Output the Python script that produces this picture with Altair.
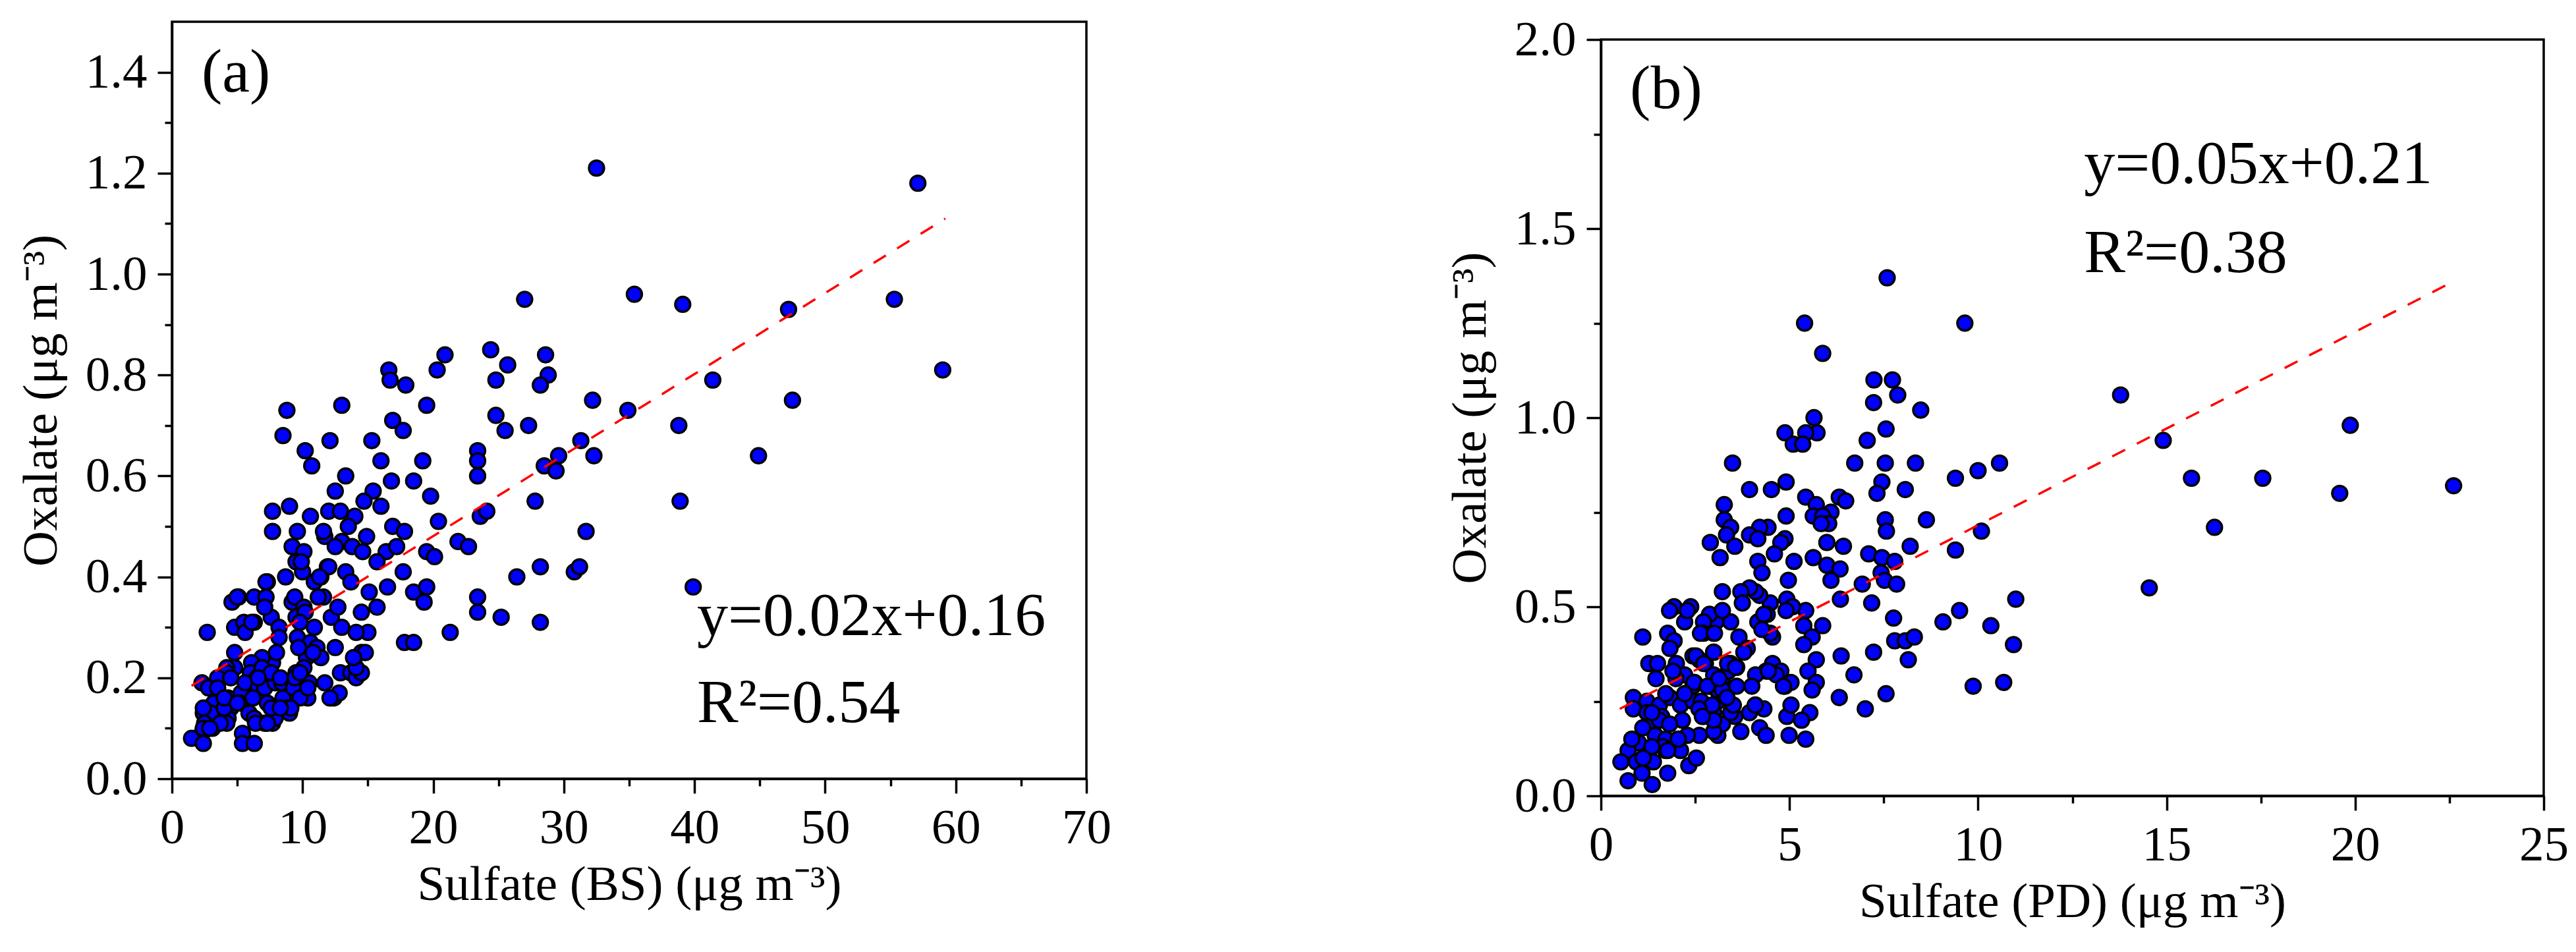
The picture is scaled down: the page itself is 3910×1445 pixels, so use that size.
import altair as alt
import pandas as pd

FONT = "Liberation Serif"

# ---------------- Panel (a): Sulfate (BS) vs Oxalate ----------------
a_x = [32.5, 35.4, 27.0, 24.4, 20.9, 20.3, 16.6, 16.7, 17.9, 24.8, 25.7, 28.6, 28.8, 28.2, 8.8, 13.0, 19.5, 32.2, 34.9, 16.9,
       17.7, 24.8, 25.5, 27.3, 8.5, 12.1, 15.3, 10.2, 23.4, 31.3, 29.6, 32.3,
       57.1, 39.1, 47.2, 55.3, 59.0, 41.4, 47.5, 38.8, 44.9, 38.9, 39.9,
       10.7, 16.0, 19.2, 23.4, 23.4, 28.5, 29.4, 13.3, 16.8, 18.5, 19.8, 12.5, 15.4, 14.7, 16.0, 27.8, 9.0, 7.7, 12.0, 12.9, 14.0,
       10.6, 23.6, 24.1, 20.4, 7.7, 9.6, 11.7, 13.5, 14.9, 16.9, 17.8, 31.7, 21.9, 22.7, 9.2, 10.1, 13.0, 13.8, 14.6, 16.4,
       17.2, 19.5, 20.1, 15.7, 17.7, 9.5, 10.0, 11.9, 10.9, 13.3, 13.7, 8.7, 7.3, 26.4, 28.2, 30.8, 31.2, 18.5, 19.5, 19.3,
       16.5, 15.1, 23.4, 23.4, 25.2, 28.2, 15.7, 14.5, 15.0, 21.3, 17.8, 18.5, 4.6, 5.1, 6.3, 7.2, 7.2, 2.7, 4.8, 5.5,
       6.3, 5.6, 7.6, 7.1, 9.2, 9.4, 10.1, 10.9, 12.2, 13.0, 12.7, 11.6, 11.4, 9.5, 8.2, 8.2, 9.6, 10.6, 11.1, 12.5,
       14.1, 14.5, 14.8, 11.4, 10.3, 7.7, 6.9, 6.1, 4.8, 4.8, 6.0, 6.5, 6.9, 4.2, 4.2, 3.5, 2.3, 2.8, 3.7, 3.2,
       2.4, 3.0, 2.5, 3.1, 2.3, 1.5, 2.4, 4.3, 4.5, 4.3, 5.3, 5.2, 5.9, 6.3, 5.4, 5.4, 6.3, 5.6, 6.6, 7.1,
       7.3, 7.1, 7.7, 7.9, 7.6, 7.9, 8.4, 8.5, 8.8, 9.0, 9.3, 9.5, 10.1, 9.4, 10.5, 10.4, 9.8, 11.7, 12.4, 12.8,
       12.9, 13.7, 14.1, 14.5, 14.1, 13.9, 12.5, 3.5, 2.4, 10.2, 4.2, 4.0, 9.1, 12.1,
       6.1, 9.8, 8.0, 9.7, 10.8, 7.6, 6.6, 8.3, 9.8, 10.4, 4.5, 4.0, 5.0, 6.2, 6.4, 7.3, 8.3, 3.7, 2.9, 2.4,
       11.6, 9.9, 12.0, 11.3, 5.0, 11.2]
a_y = [1.21, 0.96, 0.95, 0.85, 0.84, 0.81, 0.81, 0.79, 0.78, 0.79, 0.82, 0.84, 0.80, 0.78, 0.73, 0.74, 0.74, 0.75, 0.73, 0.71,
       0.69, 0.72, 0.69, 0.70, 0.68, 0.67, 0.67, 0.65, 0.65, 0.67, 0.64, 0.64,
       1.18, 0.94, 0.93, 0.95, 0.81, 0.79, 0.75, 0.70, 0.64, 0.55, 0.38,
       0.62, 0.63, 0.63, 0.63, 0.60, 0.62, 0.61, 0.60, 0.59, 0.59, 0.56, 0.57, 0.57, 0.55, 0.54, 0.55, 0.54, 0.53, 0.53, 0.53, 0.52,
       0.52, 0.52, 0.53, 0.51, 0.49, 0.49, 0.48, 0.50, 0.48, 0.50, 0.49, 0.49, 0.47, 0.46, 0.46, 0.45, 0.47, 0.46, 0.45, 0.45,
       0.46, 0.45, 0.44, 0.43, 0.41, 0.43, 0.41, 0.42, 0.39, 0.41, 0.39, 0.40, 0.39, 0.40, 0.42, 0.41, 0.42, 0.37, 0.38, 0.35,
       0.38, 0.37, 0.36, 0.33, 0.32, 0.31, 0.34, 0.33, 0.29, 0.29, 0.27, 0.27, 0.35, 0.36, 0.36, 0.36, 0.39, 0.29, 0.30, 0.31,
       0.31, 0.29, 0.32, 0.34, 0.35, 0.36, 0.34, 0.30, 0.32, 0.30, 0.34, 0.36, 0.40, 0.32, 0.30, 0.28, 0.28, 0.27, 0.26, 0.26,
       0.29, 0.25, 0.25, 0.24, 0.24, 0.23, 0.24, 0.23, 0.25, 0.22, 0.21, 0.20, 0.22, 0.22, 0.21, 0.20, 0.19, 0.18, 0.16, 0.15,
       0.13, 0.13, 0.11, 0.10, 0.09, 0.08, 0.07, 0.16, 0.14, 0.12, 0.17, 0.15, 0.13, 0.12, 0.09, 0.07, 0.07, 0.19, 0.18, 0.18,
       0.15, 0.11, 0.11, 0.12, 0.14, 0.19, 0.19, 0.16, 0.14, 0.13, 0.18, 0.21, 0.22, 0.20, 0.19, 0.16, 0.16, 0.19, 0.16, 0.17,
       0.21, 0.21, 0.20, 0.21, 0.22, 0.24, 0.46, 0.18, 0.10, 0.33, 0.11, 0.14, 0.14, 0.16,
       0.31, 0.31, 0.25, 0.26, 0.25, 0.21, 0.20, 0.20, 0.21, 0.18, 0.20, 0.16, 0.15, 0.16, 0.11, 0.11, 0.14, 0.11, 0.10, 0.14,
       0.49, 0.43, 0.42, 0.40, 0.36, 0.36]

fit_a_x = [1.5, 59.2]
fit_a_y = [0.184, 1.11]

ann_a_x = [2.27, 40.2, 40.2]
ann_a_y = [1.362, 0.2845, 0.112]
ann_a_text = ["(a)", "y=0.02x+0.16", "R²=0.54"]

a_xticks = [0, 5, 10, 15, 20, 25, 30, 35, 40, 45, 50, 55, 60, 65, 70]
a_yticks = [0.0, 0.1, 0.2, 0.3, 0.4, 0.5, 0.6, 0.7, 0.8, 0.9, 1.0, 1.1, 1.2, 1.3, 1.4]

# ---------------- Panel (b): Sulfate (PD) vs Oxalate ----------------
b_x = [7.59, 5.40, 9.65, 5.88, 7.24, 7.73, 7.87, 7.23, 8.48, 5.65, 7.56, 4.88, 5.73, 5.43, 5.10, 5.35, 7.06, 3.49, 6.73, 7.54,
       8.34, 10.57,
       13.78, 14.91, 19.87, 15.66, 17.55, 19.59, 22.61, 16.27, 14.54,
       9.40, 10.0, 3.94, 4.52, 4.91, 7.45, 7.32, 8.07, 5.43, 6.32, 6.49, 3.27, 5.71, 6.10, 4.91, 3.27, 5.63, 5.88, 6.04, 7.54,
       7.57, 8.63, 10.09, 3.44, 4.43, 4.21, 3.33, 3.94, 4.16, 4.88, 2.90, 3.55, 4.77, 5.99, 6.43, 8.20, 3.16, 4.60, 5.12, 5.63,
       7.10, 7.45, 7.79, 9.40, 4.16, 4.27, 5.99, 6.34, 6.10, 7.43, 7.52, 7.84, 6.93, 4.97, 6.35, 7.18, 11.0, 9.51, 9.07, 7.76,
       10.34, 10.94, 7.79, 8.07, 8.31, 8.15, 7.23, 6.37, 6.71, 9.87, 10.68, 7.56, 6.32, 7.01, 5.43, 5.88, 5.38, 5.60, 5.38, 5.71,
       5.49, 5.71, 5.60, 5.54, 5.32, 5.43, 4.99, 4.93, 5.04, 4.88, 5.04, 4.93, 5.08, 4.49, 4.21, 4.10, 3.94, 3.71, 3.75, 3.22,
       4.41, 4.55, 4.16, 4.55, 4.77, 4.38, 4.10, 4.10, 4.32, 3.94, 4.21, 4.38, 3.71, 3.55, 3.60, 3.60, 3.66, 3.88, 3.44, 3.44,
       3.10, 3.22, 3.10, 2.99, 3.05, 2.88, 3.22, 2.72, 2.72, 2.38, 1.94, 2.22, 1.77, 1.94, 1.83, 1.11, 1.27, 1.50, 1.46, 2.00,
       2.44, 2.61, 2.77, 2.99, 2.99, 2.22, 2.44, 2.88, 3.22, 3.38, 0.86, 0.86, 1.22, 1.22, 1.55, 1.61, 1.83, 2.16, 2.11, 2.44,
       2.66, 2.72, 2.99, 2.61, 2.99, 3.44, 1.39, 1.44, 1.11, 1.00, 0.72, 0.53, 0.94, 0.72, 1.09, 1.36, 1.39, 1.77, 1.72, 2.11,
       2.05, 2.33, 2.53, 1.72, 1.55, 1.72,
       5.84, 2.99, 2.95, 3.08, 3.22, 4.00, 2.48, 1.99, 4.49, 4.65, 2.60, 3.51, 2.29, 1.64, 1.35, 0.82, 1.12,
       1.82, 2.29, 4.32, 4.91, 2.64, 3.01, 4.27, 2.52, 2.99, 3.36, 3.79, 2.73, 3.57, 1.91, 2.47, 2.82, 3.13, 4.44, 4.84, 2.22,
       3.34, 4.09, 1.35, 2.69, 1.82, 2.05, 1.77]
b_y = [1.37, 1.25, 1.25, 1.17, 1.10, 1.10, 1.06, 1.04, 1.02, 1.00, 0.97, 0.96, 0.96, 0.96, 0.93, 0.93, 0.94, 0.88, 0.88, 0.88,
       0.88, 0.88,
       1.06, 0.94, 0.98, 0.84, 0.84, 0.80, 0.82, 0.71, 0.55,
       0.84, 0.86, 0.81, 0.81, 0.83, 0.83, 0.80, 0.81, 0.79, 0.79, 0.78, 0.77, 0.77, 0.75, 0.74, 0.73, 0.74, 0.74, 0.72, 0.73,
       0.70, 0.73, 0.70, 0.71, 0.71, 0.71, 0.69, 0.69, 0.68, 0.68, 0.67, 0.66, 0.67, 0.67, 0.66, 0.66, 0.63, 0.64, 0.62, 0.63,
       0.64, 0.63, 0.62, 0.65, 0.62, 0.59, 0.61, 0.60, 0.57, 0.59, 0.57, 0.56, 0.56, 0.57, 0.52, 0.51, 0.52, 0.49, 0.46, 0.47,
       0.45, 0.40, 0.41, 0.41, 0.42, 0.36, 0.38, 0.37, 0.32, 0.29, 0.30, 0.27, 0.26, 0.23, 0.49, 0.45, 0.45, 0.42, 0.40, 0.36,
       0.33, 0.30, 0.28, 0.22, 0.20, 0.15, 0.16, 0.21, 0.24, 0.29, 0.30, 0.52, 0.50, 0.51, 0.53, 0.54, 0.55, 0.54, 0.51, 0.54,
       0.48, 0.42, 0.46, 0.35, 0.33, 0.33, 0.32, 0.24, 0.23, 0.22, 0.18, 0.16, 0.17, 0.21, 0.29, 0.34, 0.42, 0.39, 0.35, 0.46,
       0.16, 0.19, 0.25, 0.43, 0.46, 0.48, 0.49, 0.46, 0.43, 0.50, 0.50, 0.46, 0.43, 0.41, 0.39, 0.42, 0.35, 0.35, 0.31, 0.35,
       0.37, 0.36, 0.35, 0.38, 0.32, 0.32, 0.29, 0.29, 0.31, 0.33, 0.26, 0.23, 0.25, 0.22, 0.24, 0.21, 0.26, 0.20, 0.24, 0.25,
       0.25, 0.21, 0.22, 0.16, 0.17, 0.22, 0.19, 0.16, 0.18, 0.14, 0.12, 0.09, 0.09, 0.04, 0.06, 0.03, 0.09, 0.06, 0.12, 0.12,
       0.15, 0.08, 0.10, 0.15, 0.20, 0.27,
       0.72, 0.20, 0.24, 0.28, 0.28, 0.29, 0.30, 0.31, 0.43, 0.32, 0.23, 0.24, 0.16, 0.13, 0.13, 0.15, 0.10,
       0.49, 0.49, 0.48, 0.49, 0.43, 0.43, 0.44, 0.37, 0.38, 0.35, 0.38, 0.35, 0.34, 0.33, 0.30, 0.29, 0.31, 0.33, 0.29, 0.27,
       0.26, 0.24, 0.22, 0.21, 0.19, 0.15, 0.12]

fit_b_x = [0.5, 22.6]
fit_b_y = [0.23, 1.36]

ann_b_x = [0.77, 12.81, 12.81]
ann_b_y = [1.819, 1.621, 1.385]
ann_b_text = ["(b)", "y=0.05x+0.21", "R²=0.38"]

b_xticks = [0, 2.5, 5, 7.5, 10, 12.5, 15, 17.5, 20, 22.5, 25]
b_yticks = [0.0, 0.25, 0.5, 0.75, 1.0, 1.25, 1.5, 1.75, 2.0]

MAJOR, MINOR = 22, 11


def make_axis(values, test, fmt, title, title_pad):
    return alt.Axis(
        values=values,
        title=title,
        labelExpr=f"({test}) ? format(datum.value, '{fmt}') : ''",
        tickSize={"condition": {"test": test, "value": MAJOR}, "value": MINOR},
        labelFlush=False,
        labelOverlap=False,
        grid=False,
        titlePadding=title_pad,
    )


def panel(xs, ys, fx, fy, tx, ty, tt, xdom, ydom, xaxis, yaxis, w, h):
    pts = pd.DataFrame({"x": xs, "y": ys})
    fit = pd.DataFrame({"x": fx, "y": fy})
    ann = pd.DataFrame({"x": tx, "y": ty, "t": tt})
    xs_ = alt.Scale(domain=xdom, nice=False, zero=False)
    ys_ = alt.Scale(domain=ydom, nice=False, zero=False)
    p = alt.Chart(pts).mark_circle(
        size=520, color="#0000FF", fill="#0000FF", stroke="black", strokeWidth=3.5, opacity=1
    ).encode(
        x=alt.X("x:Q", scale=xs_, axis=xaxis),
        y=alt.Y("y:Q", scale=ys_, axis=yaxis),
    )
    l = alt.Chart(fit).mark_line(
        color="#FF0000", strokeWidth=3.5, strokeDash=[22, 20]
    ).encode(x="x:Q", y="y:Q")
    t = alt.Chart(ann).mark_text(
        align="left", baseline="alphabetic", font=FONT, fontSize=94, color="black"
    ).encode(x="x:Q", y="y:Q", text="t:N")
    return alt.layer(p, l, t).properties(width=w, height=h)


pa = panel(
    a_x, a_y, fit_a_x, fit_a_y, ann_a_x, ann_a_y, ann_a_text, [0, 70], [0, 1.5],
    make_axis(a_xticks, "datum.value % 10 === 0", "d", "Sulfate (BS) (μg m⁻³)", 12),
    make_axis(a_yticks, "round(datum.value * 10) % 2 === 0", ".1f", "Oxalate (μg m⁻³)", 28),
    1388, 1149,
)
pb = panel(
    b_x, b_y, fit_b_x, fit_b_y, ann_b_x, ann_b_y, ann_b_text, [0, 25], [0, 2.0],
    make_axis(b_xticks, "datum.value % 5 === 0", "d", "Sulfate (PD) (μg m⁻³)", 12),
    make_axis(b_yticks, "round(datum.value * 4) % 2 === 0", ".1f", "Oxalate (μg m⁻³)", 28),
    1431, 1148,
)

# empty spacer that lowers panel (b) relative to panel (a), as in the original figure
spacer = alt.Chart(pd.DataFrame({"v": [0]})).mark_point(opacity=0).encode(
    x=alt.X("v:Q", axis=None), y=alt.Y("v:Q", axis=None)
).properties(width=1431, height=27, view=alt.ViewBackground(stroke="transparent"))

right = alt.vconcat(spacer, pb, spacing=0, bounds="flush")

chart = alt.hconcat(pa, right, spacing=503).properties(
    padding={"left": 15, "top": 13, "right": 0, "bottom": 0}
).configure_view(
    stroke="black", strokeWidth=3.5
).configure_axis(
    domainColor="black", domainWidth=3.5, tickColor="black", tickWidth=3.5,
    labelFont=FONT, labelFontSize=75, labelColor="black", labelPadding=16,
    titleFont=FONT, titleFontSize=75, titleFontWeight="normal", titleColor="black",
)

chart.save("out.html", embed_options={"renderer": "svg", "actions": False})
